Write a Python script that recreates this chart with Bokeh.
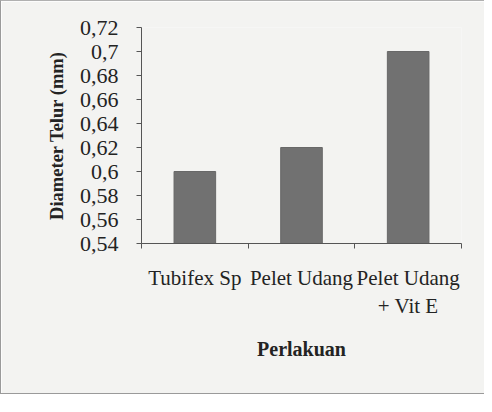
from bokeh.plotting import figure
from bokeh.models import FixedTicker, ColumnDataSource
from bokeh.embed import file_html
from bokeh.resources import INLINE

categories = ["Tubifex Sp", "Pelet Udang", "Pelet Udang\n+ Vit E"]
values = [0.60, 0.62, 0.70]
y_ticks = [0.54, 0.56, 0.58, 0.60, 0.62, 0.64, 0.66, 0.68, 0.70, 0.72]
y_tick_labels = ["0,54", "0,56", "0,58", "0,6", "0,62", "0,64", "0,66", "0,68", "0,7", "0,72"]

x_pos = [i + 0.5 for i in range(len(categories))]
src = ColumnDataSource(data=dict(x=x_pos, top=values, cat=categories))

FONT = "Liberation Serif"
BG = "#f3f3f1"
TXT = "#232323"

p = figure(width=484, height=394, output_backend="svg", toolbar_location=None,
           x_range=(0, len(categories)), y_range=(0.54, 0.72),
           min_border_left=140, min_border_right=24, min_border_top=26,
           min_border_bottom=152, background_fill_color=BG, border_fill_color=BG,
           outline_line_color=None)
p.styles = {"border-left": "1px solid #9a9a9a", "border-top": "1px solid #b0b0b0",
            "border-bottom": "1px solid #9a9a9a"}

p.vbar(x="x", top="top", bottom=0.54, width=0.39, source=src,
       fill_color="#717171", line_color="#686868")

p.xgrid.visible = False
p.ygrid.visible = False

# y axis
p.yaxis.ticker = FixedTicker(ticks=y_ticks)
p.yaxis.major_label_overrides = {t: l for t, l in zip(y_ticks, y_tick_labels)}
p.yaxis.major_tick_in = 0
p.yaxis.major_tick_out = 5
p.yaxis.major_label_standoff = 18
p.yaxis.axis_label = "Diameter Telur (mm)"
p.yaxis.axis_label_standoff = 10

# x axis
p.xaxis.ticker = FixedTicker(ticks=x_pos, minor_ticks=list(range(len(categories) + 1)))
p.xaxis.major_label_overrides = {x: c for x, c in zip(x_pos, categories)}
p.xaxis.major_tick_in = 0
p.xaxis.major_tick_out = 0
p.xaxis.minor_tick_in = 0
p.xaxis.minor_tick_out = 5
p.xaxis.major_label_standoff = 17
p.xaxis.axis_label = "Perlakuan"
p.xaxis.axis_label_standoff = 17

for ax in (p.xaxis, p.yaxis):
    ax.axis_line_color = "#555555"
    ax.major_tick_line_color = "#555555"
    ax.minor_tick_line_color = "#555555"
    ax.major_label_text_font = FONT
    ax.major_label_text_color = TXT
    ax.axis_label_text_font = FONT
    ax.axis_label_text_font_style = "bold"
    ax.axis_label_text_color = TXT
p.yaxis.major_label_text_font_size = "22px"
p.xaxis.major_label_text_font_size = "21px"
p.xaxis.axis_label_text_font_size = "20px"
p.yaxis.axis_label_text_font_size = "18.5px"
p.yaxis.minor_tick_line_color = None

open("out.html", "w").write(file_html(p, INLINE))
